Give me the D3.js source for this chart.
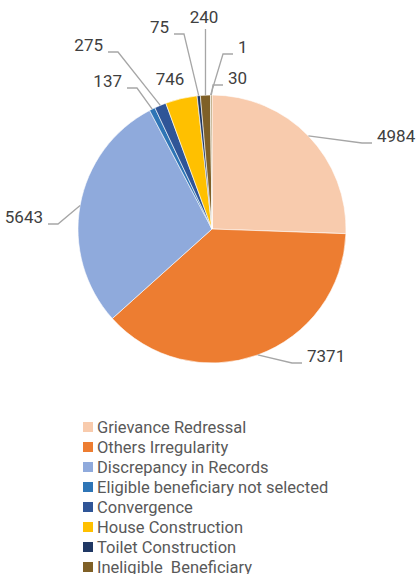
<!DOCTYPE html>
<html lang="en">
<head>
<meta charset="UTF-8">
<title>Grievance pie</title>
<script src="https://d3js.org/d3.v7.min.js"></script>
<style>
    body { margin: 0; background: #fff; }
    text { font-family: Roboto, "Noto Sans", sans-serif; }
    .value-label { font-size: 17px; fill: #404040; }
    .legend-label { font-size: 16.5px; fill: #595959; white-space: pre; }
    .leader { fill: none; stroke: #a6a6a6; stroke-width: 1.3; }
</style>
</head>
<body>
<svg width="418" height="574"></svg>
<script>
    // data
    const categories = [
        "Grievance Redressal",
        "Others Irregularity",
        "Discrepancy in Records",
        "Eligible beneficiary not selected",
        "Convergence",
        "House Construction",
        "Toilet Construction",
        "Ineligible  Beneficiary",
        "Category 9",
        "Category 10"
    ];
    const values = [4984, 7371, 5643, 137, 275, 746, 75, 240, 1, 30];
    const colors = ["#f8cbad", "#ed7d31", "#8faadc", "#2e75b6", "#2f5597",
                    "#ffc000", "#203864", "#7f6027", "#a5a5a5", "#9c7f45"];

    // label placement, relative to pie centre: [x, y, anchor]
    const labelPos = [
        [165, -93, "start"],
        [95, 127, "start"],
        [-169, -12, "end"],
        [-90, -148, "end"],
        [-109, -184, "end"],
        [-42, -150, "none"],
        [-43, -202, "end"],
        [-8, -212, "vertical"],
        [26, -182, "start"],
        [16, -151, "start"]
    ];

    const svg = d3.select("svg");
    const cx = 212, cy = 229, radius = 134;

    const pie = d3.pie().sort(null).value(d => d.value);
    const arcs = pie(values.map((v, i) => ({ value: v, i })));
    const arc = d3.arc().innerRadius(0).outerRadius(radius);

    const g = svg.append("g").attr("transform", `translate(${cx},${cy})`);

    g.selectAll("path.slice")
        .data(arcs)
        .enter().append("path")
        .attr("class", "slice")
        .attr("d", arc)
        .attr("fill", d => colors[d.data.i])
        .attr("stroke", "#fff")
        .attr("stroke-width", 0.6);

    // point on the rim at the slice's mid angle
    function rimPoint(d) {
        const a = (d.startAngle + d.endAngle) / 2;
        return [radius * Math.sin(a), -radius * Math.cos(a)];
    }

    const line = d3.line();

    arcs.forEach((d, k) => {
        const [lx, ly, mode] = labelPos[k];
        const p = rimPoint(d);
        let pts = null;
        if (mode === "start") pts = [p, [lx - 15, ly + 7], [lx - 5, ly + 7]];
        else if (mode === "end") pts = [p, [lx + 15, ly + 7], [lx + 5, ly + 7]];
        else if (mode === "vertical") pts = [p, [p[0], ly + 12]];
        if (pts) g.append("path").attr("class", "leader").attr("d", line(pts));

        g.append("text")
            .attr("class", "value-label")
            .attr("x", lx)
            .attr("y", ly)
            .attr("dy", "0.35em")
            .attr("text-anchor", mode === "start" || mode === "end" ? mode : "middle")
            .text(d3.format("d")(d.data.value));
    });

    // legend
    const legend = svg.append("g").attr("transform", "translate(83,427)");
    const item = legend.selectAll("g")
        .data(categories)
        .enter().append("g")
        .attr("transform", (d, i) => `translate(0,${i * 20})`);
    item.append("rect")
        .attr("x", 0).attr("y", -5)
        .attr("width", 10).attr("height", 10)
        .attr("fill", (d, i) => colors[i]);
    item.append("text")
        .attr("class", "legend-label")
        .attr("x", 14)
        .attr("dy", "0.35em")
        .text(d => d);
</script>
</body>
</html>
